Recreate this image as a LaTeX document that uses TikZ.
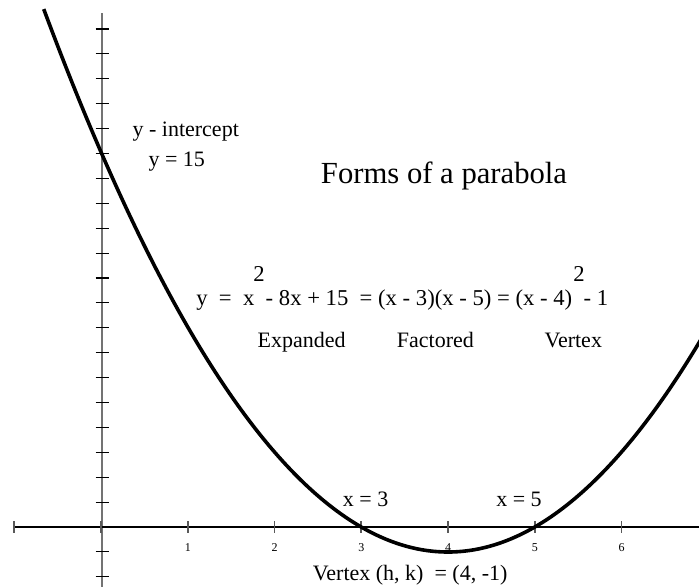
\documentclass[tikz,border=0pt]{standalone}
\usepackage{fontspec}
\setmainfont{Liberation Serif}
\definecolor{axisgray}{gray}{0.45}
\definecolor{tickgray}{gray}{0.35}
\begin{document}
\begin{tikzpicture}[x=0.75pt,y=-0.75pt,
  lbl/.style={inner sep=0pt, anchor=base west, font=\fontsize{16.5}{18}\selectfont},
  eqn/.style={inner sep=0pt, anchor=base west, font=\fontsize{17}{19}\selectfont},
  titlelbl/.style={inner sep=0pt, anchor=base west, font=\fontsize{23}{26}\selectfont},
  ticklbl/.style={inner sep=0pt, anchor=base, font=\fontsize{9}{10}\selectfont},
  yaxisline/.style={draw=axisgray, line width=1.5pt},
  xaxisline/.style={draw=black, line width=0.8pt},
  ytickmark/.style={draw=black, line width=0.8pt},
  xtickmark/.style={draw=tickgray, line width=1.2pt},
  curveline/.style={draw=black, line width=2.7pt}]
\useasboundingbox (0,0) rectangle (699,587);
% axes
\coordinate (ytop) at (101.5,13);
\coordinate (ybot) at (101.5,587);
\coordinate (xleft) at (14.5,527);
\coordinate (xright) at (699,527);
\draw[yaxisline] (ytop) -- (ybot);
\draw[xaxisline] (xleft) -- (xright);
\foreach \k in {-2,...,20}
  \draw[ytickmark] (95.5,{527-24.9*\k}) -- (108.5,{527-24.9*\k});
\foreach \k in {-1,...,6}
  \draw[xtickmark] ({101+86.75*\k},521) -- ({101+86.75*\k},533);
\foreach \k in {1,...,6}
  \node[ticklbl] (t\k) at ({101+86.75*\k},551) {\k};
% texts
\node[lbl] (yint) at (132.3,136) {y - intercept};
\node[lbl] (y15) at (148.3,166.7) {y = 15};
\node[titlelbl] (title) at (320.7,183.3) {Forms of a parabola};
\node[eqn] (eq) at (196,305) {y\ \ =\ \ x\ \ - 8x + 15\ \ = (x - 3)(x - 5) = (x - 4)\ \ - 1};
\node[eqn] (sq1) at (253,281.7) {2};
\node[eqn] (sq2) at (573,281.7) {2};
\node[lbl] (expd) at (257.3,347) {Expanded};
\node[lbl] (fact) at (396.7,347) {Factored};
\node[lbl] (vert) at (544.3,347) {Vertex};
\node[lbl] (x3) at (342.7,506) {x = 3};
\node[lbl] (x5) at (496,506) {x = 5};
\node[lbl] (vhk) at (312.7,580) {Vertex (h, k)\ \ = (4, -1)};
% parabola
\begin{scope}
\clip (0,0) rectangle (699,587);
\draw[curveline] plot[domain=-0.66:6.95, samples=140, smooth] ({101+86.75*\x},{527-25*((\x-4)^2-1)});
\end{scope}
\end{tikzpicture}
\end{document}
